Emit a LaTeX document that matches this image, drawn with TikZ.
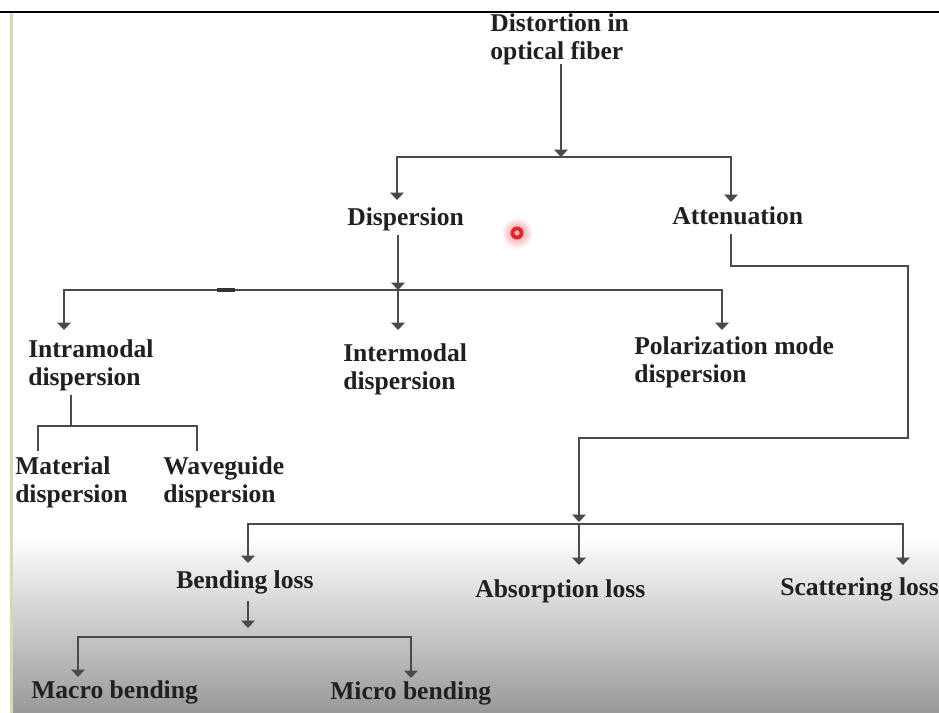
\documentclass[tikz,border=0pt]{standalone}
\usepackage{fontspec}
\setmainfont{Liberation Serif}
\usetikzlibrary{arrows.meta,calc}
\definecolor{ink}{HTML}{202020}
\definecolor{wirecol}{HTML}{4A4A4A}
\definecolor{rail}{HTML}{D5DAB2}
\definecolor{dotred}{HTML}{E3262A}

\begin{document}
\begin{tikzpicture}[x=0.75pt,y=-0.75pt,
  lbl/.style={font=\bfseries\fontsize{19.2}{21}\selectfont, text=ink, inner sep=0pt, anchor=base west, align=left},
  wire/.style={draw=wirecol, line width=1.9pt, line cap=rect},
  arr/.style={wire, -{Triangle[length=5.5pt,width=10pt]}},
  bus/.style={wire},
]
\useasboundingbox (0,0) rectangle (939,713);

% page background, fading to grey towards the bottom
\fill[white] (0,0) rectangle (939,713);
\shade[top color=white, bottom color=black!40] (13,535) rectangle (939,713);
\fill[rail] (10,13) rectangle (13,713);
\draw[black, line width=0.8pt] (0,12) -- (939,12);
\draw[black, line width=1.6pt] (0,12) -- (10,12);

% pointer marker
\shade[inner color=dotred!55, outer color=white] (517,233) circle (16);
\fill[dotred] (517,233) circle (6.5);
\fill[dotred!35] (517,233) circle (2.6);

% labels (multi-line labels sit on the baseline of their last line)
\node[lbl] (dist)  at (490,60)  {Distortion in\\optical fiber};
\node[lbl] (disp)  at (347,225) {Dispersion};
\node[lbl] (atten) at (672,224) {Attenuation};
\node[lbl] (intra) at (28,385)  {Intramodal\\dispersion};
\node[lbl] (inter) at (343,389) {Intermodal\\dispersion};
\node[lbl] (pmd)   at (634,382) {Polarization mode\\dispersion};
\node[lbl] (mat)   at (15,502)  {Material\\dispersion};
\node[lbl] (wg)    at (163,502) {Waveguide\\dispersion};
\node[lbl] (bend)  at (176,588) {Bending loss};
\node[lbl] (abs)   at (475,597) {Absorption loss};
\node[lbl] (scat)  at (780,595) {Scattering loss};
\node[lbl] (macro) at (31,698)  {Macro bending};
\node[lbl] (micro) at (330,699) {Micro bending};

% root -> dispersion / attenuation
\coordinate (j1)  at (561,157);
\coordinate (b1l) at (397,157);
\coordinate (b1r) at (731,157);
\draw[arr] (dist.south -| j1) -- (j1);
\draw[bus] (b1l) -- (b1r);
\draw[arr] (b1l) -- ($(b1l |- disp.base)+(0,-25)$);
\draw[arr] (b1r) -- ($(b1r |- atten.base)+(0,-22)$);

% dispersion -> three kinds
\coordinate (b2l) at (64,290);
\coordinate (b2m) at (398,290);
\coordinate (b2r) at (722,290);
\draw[arr] ($(b2m |- disp.base)+(0,11)$) -- (b2m);
\draw[bus] (b2l) -- (b2r);
\draw[arr] (b2l) -- ($(b2l |- intra.base)+(0,-55)$);
\draw[arr] (b2m) -- ($(b2m |- inter.base)+(0,-59)$);
\draw[arr] (b2r) -- ($(b2r |- pmd.base)+(0,-52)$);
\draw[line width=2.4pt, black!80] (217,290) -- (235,290);

% intramodal -> material / waveguide
\coordinate (b3m) at (71,426);
\coordinate (b3l) at (38,426);
\coordinate (b3r) at (197,426);
\draw[wire] ($(b3m |- intra.south)+(0,6)$) -- (b3m);
\draw[wire] ($(b3l |- mat.base)+(0,-52)$) -- (b3l) -- (b3r) -- ($(b3r |- wg.base)+(0,-52)$);

% attenuation -> losses
\coordinate (a1) at (731,266);
\coordinate (a2) at (908,266);
\coordinate (a3) at (908,438);
\coordinate (a4) at (579,438);
\coordinate (j4) at (579,524);
\draw[arr] ($(a1 |- atten.base)+(0,11)$) -- (a1) -- (a2) -- (a3) -- (a4) -- ($(j4)+(0,-2)$);
\coordinate (b4l) at (248,524);
\coordinate (b4r) at (903,524);
\draw[bus] (b4l) -- (b4r);
\draw[arr] (b4l) -- ($(b4l |- bend.base)+(0,-25)$);
\draw[arr] (j4) -- ($(j4 |- abs.base)+(0,-32)$);
\draw[arr] (b4r) -- ($(b4r |- scat.base)+(0,-30)$);

% bending loss -> macro / micro
\coordinate (j5)  at (248,637);
\coordinate (b5l) at (78,637);
\coordinate (b5r) at (411,637);
\draw[arr] ($(j5 |- bend.base)+(0,14)$) -- ($(j5)+(0,-9)$);
\draw[bus] (b5l) -- (b5r);
\draw[arr] (b5l) -- ($(b5l |- macro.base)+(0,-21)$);
\draw[arr] (b5r) -- ($(b5r |- micro.base)+(0,-21)$);
\end{tikzpicture}
\end{document}
